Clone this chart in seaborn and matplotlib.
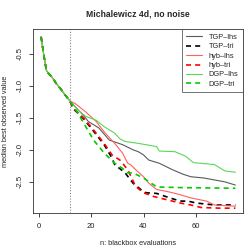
import matplotlib
matplotlib.use("Agg")
import matplotlib.pyplot as plt
import pandas as pd
import seaborn as sns

# shared initial design, n = 1..12
init_x = list(range(1, 13))
init_y = [-0.24, -0.52, -0.76, -0.82, -0.86, -0.92, -0.98, -1.03, -1.08, -1.14, -1.19, -1.24]

# sequential part
tgp_lhs_x = [14, 17, 19, 23, 27, 32, 36, 38, 40, 42, 46, 51, 55, 58, 63, 67, 71, 75]
tgp_lhs_y = [-1.33, -1.46, -1.56, -1.66, -1.85, -1.92, -2.00, -2.03, -2.08, -2.16, -2.21,
             -2.31, -2.38, -2.42, -2.44, -2.47, -2.50, -2.55]

tgp_tri_x = [13, 17, 20, 25, 28, 29, 33, 36, 39, 41, 45, 50, 54, 57, 60, 67, 75]
tgp_tri_y = [-1.35, -1.51, -1.66, -1.92, -2.13, -2.23, -2.36, -2.52, -2.62, -2.67, -2.68,
             -2.75, -2.80, -2.80, -2.83, -2.86, -2.86]

hyb_lhs_x = [14, 18, 22, 25, 29, 32, 34, 35, 37, 40, 42, 45, 49, 54, 58, 64, 67, 75]
hyb_lhs_y = [-1.28, -1.41, -1.56, -1.72, -1.90, -2.05, -2.21, -2.23, -2.31, -2.42, -2.52,
             -2.62, -2.65, -2.70, -2.75, -2.80, -2.86, -2.88]

hyb_tri_x = [13, 17, 20, 25, 28, 31, 34, 37, 40, 44, 49, 54, 58, 62, 69, 75]
hyb_tri_y = [-1.34, -1.50, -1.64, -1.90, -2.08, -2.16, -2.31, -2.57, -2.67, -2.73, -2.78,
             -2.83, -2.86, -2.90, -2.91, -2.91]

dgp_lhs_x = [15, 18, 22, 25, 29, 31, 33, 38, 45, 46, 52, 56, 59, 67, 71, 75]
dgp_lhs_y = [-1.38, -1.48, -1.54, -1.64, -1.74, -1.83, -1.87, -1.90, -1.95, -2.02, -2.03,
             -2.10, -2.20, -2.23, -2.33, -2.35]

dgp_tri_x = [15, 18, 21, 24, 25, 29, 32, 34, 36, 40, 44, 45, 55, 75]
dgp_tri_y = [-1.43, -1.64, -1.85, -2.00, -2.05, -2.21, -2.29, -2.36, -2.36, -2.44, -2.55,
             -2.58, -2.59, -2.60]

labels = ["TGP\u2013lhs", "TGP\u2013tri", "hyb\u2013lhs", "hyb\u2013tri", "DGP\u2013lhs", "DGP\u2013tri"]
colors = ["#5a5a5a", "#000000", "#ff6060", "#ff0000", "#5ad85a", "#00cc00"]
styles = ["-", (0, (3, 2.5)), "-", (0, (3, 2.5)), "-", (0, (3, 2.5))]
widths = [0.8, 1.2, 0.8, 1.2, 0.8, 1.2]

series = [
    (tgp_lhs_x, tgp_lhs_y), (tgp_tri_x, tgp_tri_y), (hyb_lhs_x, hyb_lhs_y),
    (hyb_tri_x, hyb_tri_y), (dgp_lhs_x, dgp_lhs_y), (dgp_tri_x, dgp_tri_y),
]

sns.set_style("white")
plt.rcParams["font.family"] = ["Liberation Sans", "DejaVu Sans"]

fig = plt.figure(figsize=(2.46, 2.52), dpi=100)
ax = fig.add_axes([0.1341, 0.1536, 0.8537, 0.7294])

for (sx, sy), lab, col, ls, lw in zip(series, labels, colors, styles, widths):
    df = pd.DataFrame({"n": init_x + sx, "best": init_y + sy})
    sns.lineplot(data=df, x="n", y="best", ax=ax, color=col, linestyle=ls,
                 linewidth=lw, label=lab, sort=True)

ax.axvline(12, color="#888888", linestyle=(0, (1, 1.5)), linewidth=0.8)

ax.set_xlim(-2.1, 77.9)
ax.set_ylim(-2.99, -0.125)
ax.set_xticks([0, 20, 40, 60])
ax.set_yticks([-2.5, -2.0, -1.5, -1.0, -0.5])
ax.set_yticklabels(["-2.5", "-2.0", "-1.5", "-1.0", "-0.5"], rotation=90, va="center")
ax.tick_params(axis="both", direction="out", length=3, width=0.6, labelsize=5.5,
               pad=4, bottom=True, left=True, colors="#222222")
for sp in ax.spines.values():
    sp.set_color("#333333")
    sp.set_linewidth(0.6)

ax.set_title("Michalewicz 4d, no noise", fontsize=6.2, fontweight="bold", pad=9)
ax.set_xlabel("n: blackbox evaluations", fontsize=5.3, labelpad=7)
ax.set_ylabel("median best observed value", fontsize=5.3, labelpad=5)

leg = ax.legend(loc="upper right", fontsize=5.3, frameon=True, fancybox=False,
                borderaxespad=0, handlelength=2.2, handletextpad=0.9,
                labelspacing=0.3, borderpad=0.6)
leg.get_frame().set_edgecolor("#333333")
leg.get_frame().set_linewidth(0.6)

fig.savefig("out.png", dpi=100)
plt.close(fig)
